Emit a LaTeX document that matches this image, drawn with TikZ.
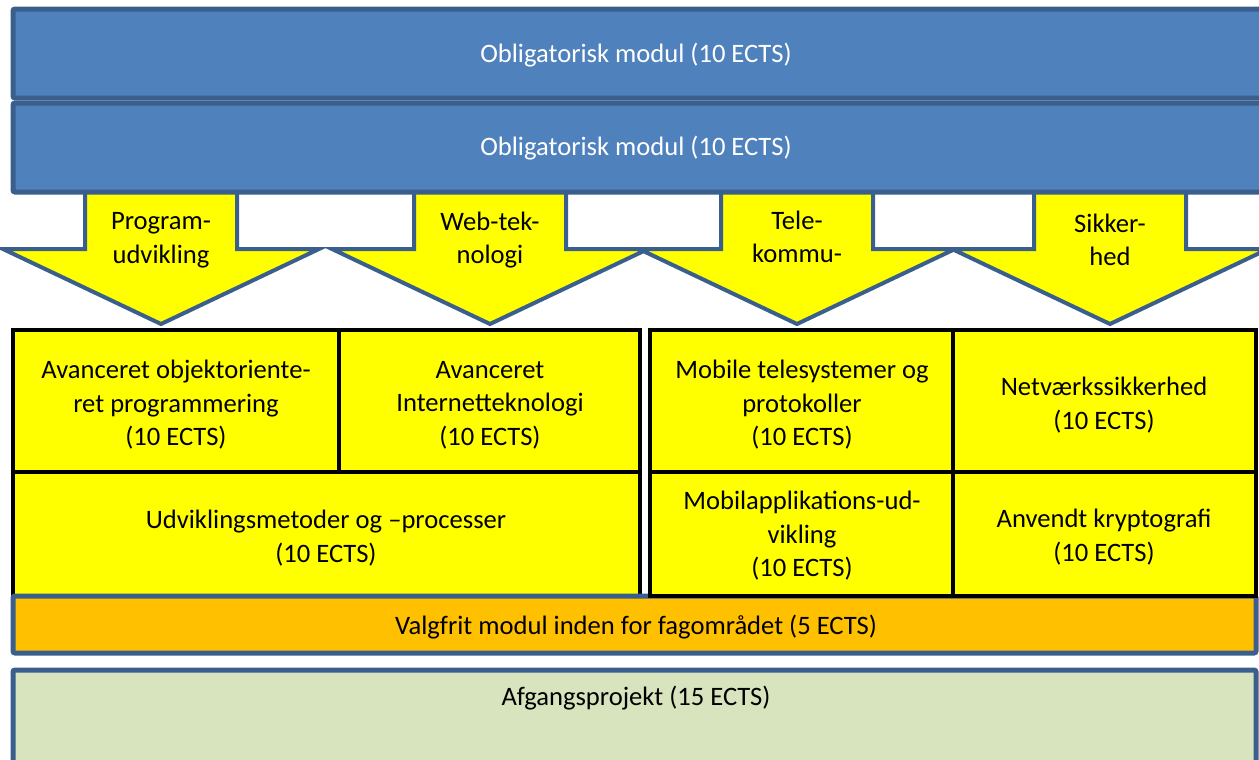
\documentclass[tikz,border=0pt]{standalone}
\usepackage{fontspec}
\setmainfont{Carlito}
\usepackage{tikz}

\definecolor{barblue}{HTML}{4F81BD}
\definecolor{lineblue}{HTML}{3A5F8C}
\definecolor{boxyellow}{RGB}{255,255,0}
\definecolor{optorange}{HTML}{FFC000}
\definecolor{projgreen}{HTML}{D7E4BD}

\begin{document}
\begin{tikzpicture}[x=0.5pt, y=-0.5pt,
    font=\fontsize{13.3}{16.8}\selectfont,
    bar/.style={fill=barblue, draw=lineblue, line width=2.5pt, rounded corners=1pt},
    track/.style={fill=boxyellow, draw=lineblue, line width=2pt, line join=miter},
    course/.style={draw=black, line width=2.3pt},
    extra/.style={draw=lineblue, line width=2.5pt, rounded corners=1pt},
    txt/.style={align=center, text=black, inner sep=0pt},
    bartxt/.style={text=white, inner sep=0pt}]
    \useasboundingbox (0,0) rectangle (1259,760);
    \clip (0,0) rectangle (1259,760);

    \filldraw[track] (85,190) -- (85,249) -- (3,249) -- (161,324) -- (319,249) -- (237,249) -- (237,190) -- cycle;
    \node[txt] (prog) at (161,240) {Program-\\udvikling};

    \filldraw[track] (414,190) -- (414,249) -- (332,249) -- (490,324) -- (648,249) -- (566,249) -- (566,190) -- cycle;
    \node[txt] (web) at (490,240) {Web-tek-\\nologi};

    \filldraw[track] (721,190) -- (721,249) -- (639,249) -- (797,324) -- (955,249) -- (873,249) -- (873,190) -- cycle;
    \node[txt] (tele) at (797,237) {Tele-\\kommu-};

    \filldraw[track] (1034,190) -- (1034,249) -- (952,249) -- (1110,324) -- (1268,249) -- (1186,249) -- (1186,190) -- cycle;
    \node[txt] (sikker) at (1110,240) {Sikker-\\hed};

    \filldraw[bar] (13,9) rectangle (1275,98);
    \node[bartxt] (obl1) at (636,55) {Obligatorisk modul (10 ECTS)};

    \filldraw[bar] (13,103) rectangle (1275,192);
    \node[bartxt] (obl2) at (636,148) {Obligatorisk modul (10 ECTS)};

    \fill[boxyellow] (13,330) rectangle (640,596);
    \draw[course] (13,596) -- (13,330) -- (640,330) -- (640,596);
    \draw[course] (339,330) -- (339,472);
    \draw[course] (13,472) -- (640,472);
    \node[txt] (aoop) at (176,405) {Avanceret objektoriente-\\ret programmering\\(10 ECTS)};
    \node[txt] (ait) at (490,405) {Avanceret\\Internetteknologi\\(10 ECTS)};
    \node[txt] (udv) at (326,538) {Udviklingsmetoder og –processer\\(10 ECTS)};

    \filldraw[extra, fill=optorange] (13,596) rectangle (1256,653);
    \node[txt] (valg) at (636,627) {Valgfrit modul inden for fagområdet (5 ECTS)};

    \filldraw[course, fill=boxyellow] (650,330) rectangle (1256,596);
    \draw[course] (953,330) -- (953,596);
    \draw[course] (650,472) -- (1256,472);
    \node[txt] (mob) at (802,405) {Mobile telesystemer og\\protokoller\\(10 ECTS)};
    \node[txt] (net) at (1104,405) {Netværkssikkerhed\\(10 ECTS)};
    \node[txt] (mapp) at (802,536) {Mobilapplikations-ud-\\vikling\\(10 ECTS)};
    \node[txt] (krypt) at (1104,537) {Anvendt kryptografi\\(10 ECTS)};

    \filldraw[extra, fill=projgreen] (13,670) rectangle (1256,800);
    \node[txt] (afg) at (636,698) {Afgangsprojekt (15 ECTS)};
\end{tikzpicture}
\end{document}
